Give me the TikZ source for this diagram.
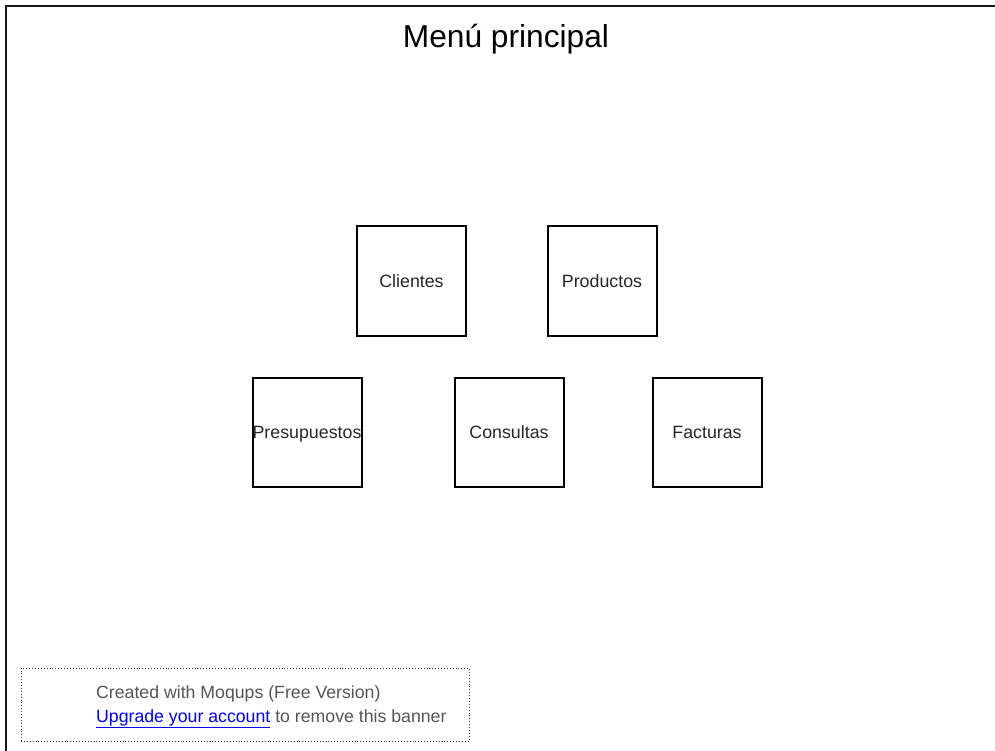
\documentclass[tikz,border=0pt]{standalone}
\usepackage{fontspec}
\setmainfont{Liberation Sans}
\definecolor{linkblue}{RGB}{0,0,238}
\definecolor{bannergray}{RGB}{85,85,85}
\tikzset{
  menubox/.style={draw=black, line width=2pt, minimum width=109pt, minimum height=109pt,
    inner sep=0pt, text height=13pt, text depth=0pt,
    font=\fontsize{17.8}{20}\selectfont, text=black!85},
  frameline/.style={draw=black!90, line width=2pt},
  bannerbox/.style={draw=black!80, dotted, line width=0.9pt},
  bannertext/.style={anchor=base west, inner sep=0pt, font=\fontsize{17.7}{20}\selectfont, text=bannergray}
}
\begin{document}
\begin{tikzpicture}[x=1pt, y=-1pt]
  \useasboundingbox (0,0) rectangle (995,751);
  % page frame: top and left edges
  \coordinate (tl) at (6,6);
  \coordinate (tr) at (995,6);
  \coordinate (bl) at (6,751);
  \draw[frameline] (tr) -- (tl) -- (bl);

  % title
  \node[font=\fontsize{31.7}{36}\selectfont, inner sep=0pt, anchor=base] (title) at (506,48) {Menú principal};

  % menu buttons
  \node[menubox] (clientes) at (411.5,281) {Clientes};
  \node[menubox] (productos) at (602,281) {Productos};
  \node[menubox] (presupuestos) at (307,432) {Presupuestos};
  \node[menubox] (consultas) at (509,432) {Consultas};
  \node[menubox] (facturas) at (707,432) {Facturas};

  % banner
  \node[bannerbox, minimum width=448pt, minimum height=73pt, inner sep=0pt] (banner) at (245,704.5) {};
  \node[bannertext] (credit) at (96,698) {Created with Moqups (Free Version)};
  \node[bannertext] (upgrade) at (96,722.5) {\textcolor{linkblue}{\underline{Upgrade your account}} to remove this banner};
\end{tikzpicture}
\end{document}
